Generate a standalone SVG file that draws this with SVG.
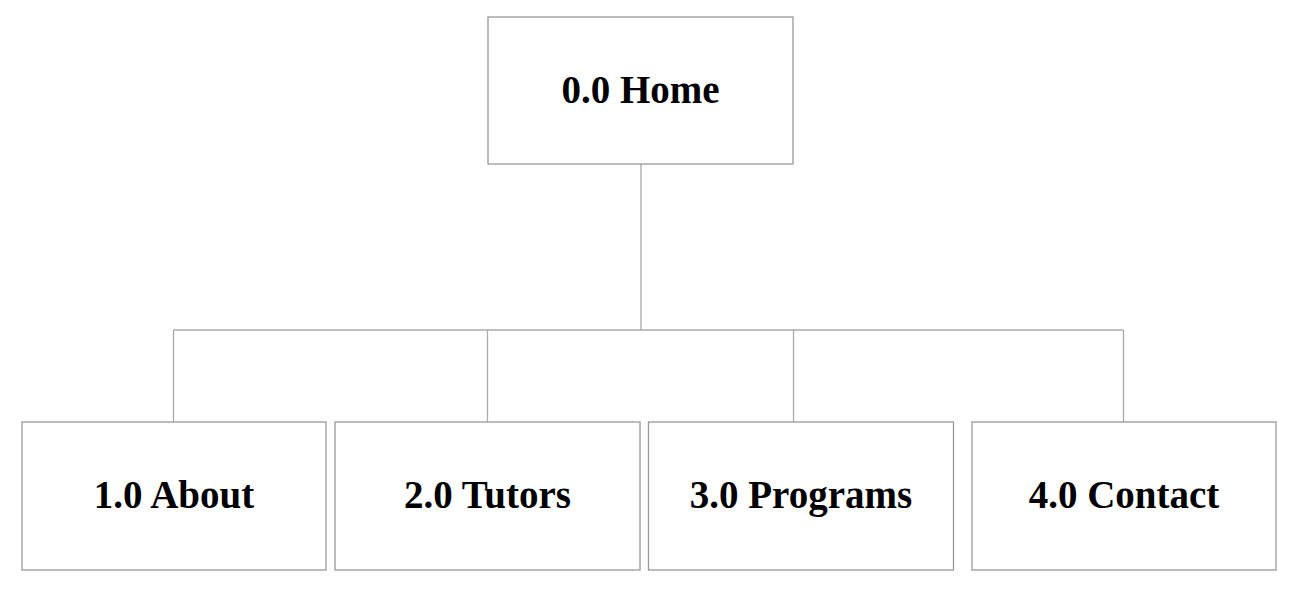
<svg xmlns="http://www.w3.org/2000/svg" width="1302" height="600" viewBox="0 0 1302 600">
<style>
.box{fill:#fff;stroke:#999;stroke-width:1.3}
.lbl{font-family:"Liberation Serif","Times New Roman",serif;font-weight:bold;font-size:39px;fill:#000;text-anchor:middle}
.conn{stroke:#aaa;stroke-width:1.3;fill:none}
</style>
<rect width="1302" height="600" fill="#fff"/>
<g id="connectors">
<path class="conn" d="M641 164 V330 M173.5 330 H1123.5 M173.5 330 V422 M487.5 330 V422 M793.5 330 V422 M1123.5 330 V422"/>
</g>
<g id="home"><rect class="box" x="488" y="17" width="305" height="147"/><text class="lbl" x="640.5" y="103">0.0 Home</text></g>
<g id="about"><rect class="box" x="22" y="422" width="304" height="148"/><text class="lbl" x="174" y="508">1.0 About</text></g>
<g id="tutors"><rect class="box" x="335" y="422" width="305" height="148"/><text class="lbl" x="487.5" y="508">2.0 Tutors</text></g>
<g id="programs"><rect class="box" x="648.5" y="422" width="305" height="148"/><text class="lbl" x="801" y="508">3.0 Programs</text></g>
<g id="contact"><rect class="box" x="972" y="422" width="304" height="148"/><text class="lbl" x="1124" y="508">4.0 Contact</text></g>
</svg>
